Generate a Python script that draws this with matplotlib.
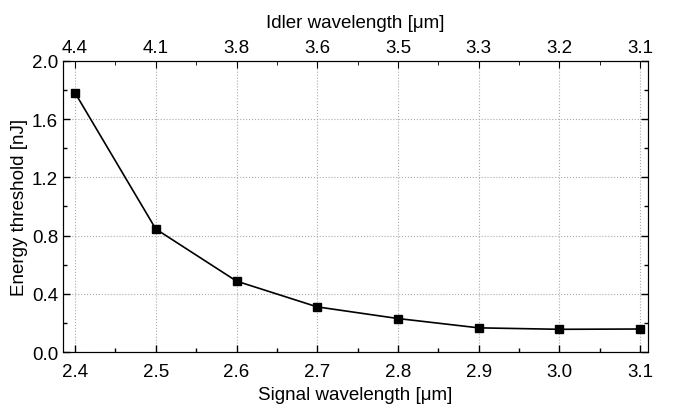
import matplotlib.pyplot as plt
from matplotlib.ticker import MultipleLocator

plt.rcParams['font.family'] = ['Liberation Sans', 'DejaVu Sans']

signal = [2.4, 2.5, 2.6, 2.7, 2.8, 2.9, 3.0, 3.1]
energy = [1.78, 0.845, 0.487, 0.31, 0.23, 0.166, 0.156, 0.158]
idler_labels = ["4.4", "4.1", "3.8", "3.6", "3.5", "3.3", "3.2", "3.1"]

fig = plt.figure(figsize=(6.75, 4.1), dpi=100)
ax = fig.add_axes([0.0933, 0.139, 0.867, 0.71])

ax.plot(signal, energy, color="black", lw=1.2, marker="s", ms=5.5)

ax.set_xlim(2.385, 3.11)
ax.set_ylim(0, 2.0)
ax.xaxis.set_minor_locator(MultipleLocator(0.05))
ax.yaxis.set_major_locator(MultipleLocator(0.4))
ax.yaxis.set_minor_locator(MultipleLocator(0.2))
ax.set_xticks(signal)
ax.set_xticklabels(["%.1f" % s for s in signal])
ax.grid(True, which="major", ls=":", color="#aaaaaa", lw=0.8)

ax.tick_params(which="both", direction="in", right=True, labelsize=13.5, width=1)
ax.tick_params(which="major", length=5)
ax.tick_params(which="minor", length=3)
ax.tick_params(axis="x", pad=8)

ax.set_xlabel("Signal wavelength [\u03bcm]", fontsize=13.5, labelpad=4)
ax.set_ylabel("Energy threshold [nJ]", fontsize=13.5, labelpad=3)

top = ax.twiny()
top.set_xlim(ax.get_xlim())
top.set_xticks(signal)
top.set_xticklabels(idler_labels)
top.xaxis.set_minor_locator(MultipleLocator(0.05))
top.tick_params(which="both", direction="in", labelsize=13.5)
top.tick_params(which="major", length=5)
top.tick_params(which="minor", length=3)
top.set_xlabel("Idler wavelength [\u03bcm]", fontsize=13.5, labelpad=9)

fig.savefig("out.png", dpi=100)
